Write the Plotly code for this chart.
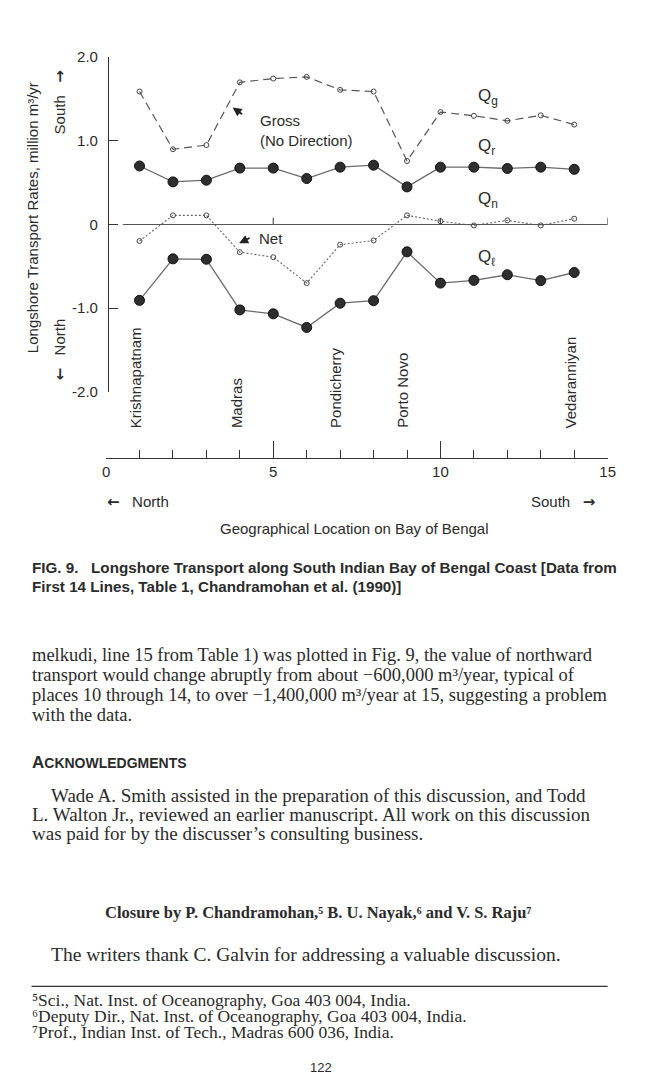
import plotly.graph_objects as go

W, H = 650, 1082


def px(x):
    return x / W


def py(y):
    return 1 - y / H


# ---------------- data ----------------
location = list(range(1, 15))
q_gross = [1.59, 0.90, 0.95, 1.70, 1.745, 1.765, 1.61, 1.59, 0.76, 1.345, 1.30, 1.24, 1.305, 1.195]
q_right = [0.70, 0.51, 0.53, 0.675, 0.675, 0.55, 0.686, 0.71, 0.45, 0.686, 0.686, 0.67, 0.686, 0.66]
q_net = [-0.196, 0.11, 0.11, -0.33, -0.39, -0.70, -0.24, -0.19, 0.11, 0.04, -0.01, 0.05, -0.01, 0.07]
q_left = [-0.906, -0.41, -0.415, -1.02, -1.067, -1.23, -0.94, -0.91, -0.326, -0.70, -0.667, -0.60, -0.67, -0.573]

place_names = ["Krishnapatnam", "Madras", "Pondicherry", "Porto Novo", "Vedaranniyan"]
place_index = [1, 4, 7, 9, 14]

y_ticks = [2, 1, 0, -1, -2]
y_tick_text = ["2.0", "1.0", "0", "-1.0", "-2.0"]
x_major = [0, 5, 10, 15]
x_major_text = ["0", "5", "10", "15"]
zero_ticks = [5, 10, 15]

SANS = "Liberation Sans, Arial, sans-serif"
SERIF = "Liberation Serif, Times New Roman, serif"
INK = "#2b2b2b"


def arrow(ch):
    return "<b><span style='font-family:DejaVu Sans'>" + ch + "</span></b>"


fig = go.Figure()

fig.add_trace(go.Scatter(
    x=location, y=q_gross, mode="lines+markers", name="Qg",
    line=dict(color="#555555", width=1.2, dash="8px,5px"),
    marker=dict(symbol="circle-open", size=5, color="#444444", line=dict(width=1)),
))
fig.add_trace(go.Scatter(
    x=location, y=q_right, mode="lines+markers", name="Qr",
    line=dict(color="#6a6a6a", width=1.3),
    marker=dict(symbol="circle", size=10, color="#2e2e2e", line=dict(color="#111111", width=1)),
))
fig.add_trace(go.Scatter(
    x=location, y=q_net, mode="lines+markers", name="Qn",
    line=dict(color="#666666", width=1.1, dash="2px,2px"),
    marker=dict(symbol="circle-open", size=5, color="#444444", line=dict(width=1)),
))
fig.add_trace(go.Scatter(
    x=location, y=q_left, mode="lines+markers", name="Ql",
    line=dict(color="#6a6a6a", width=1.3),
    marker=dict(symbol="circle", size=10, color="#2e2e2e", line=dict(color="#111111", width=1)),
))

shapes = [
    dict(type="line", xref="x", yref="y", x0=0.5, x1=15, y0=0, y1=0,
         line=dict(color="#555555", width=1.1)),
    dict(type="line", xref="paper", yref="paper", x0=px(28), x1=px(615), y0=py(993), y1=py(993),
         line=dict(color="#333333", width=1.2)),
]
for t in zero_ticks:
    shapes.append(dict(type="line", xref="x", yref="y", x0=t, x1=t, y0=0, y1=0.08,
                       line=dict(color="#444444", width=1.1)))

ann = []


def text(x, y, s, size=15, family=SANS, xanchor="left", angle=0, color=INK, yanchor="middle", **kw):
    d = dict(x=x, y=y, xref=kw.pop("xref", "paper"), yref=kw.pop("yref", "paper"), text=s,
             showarrow=False, xanchor=xanchor, yanchor=yanchor, textangle=angle,
             font=dict(size=size, family=family, color=color), align="left", borderpad=0)
    d.update(kw)
    ann.append(d)


# chart annotations
text(px(260), py(123), "Gross<br>(No Direction)", size=15)
ann.append(dict(x=3.785, y=1.40, xref="x", yref="y", ax=11, ay=8, text="", showarrow=True,
                arrowhead=2, arrowsize=1, arrowwidth=1.8, arrowcolor="#222222"))
text(px(259), py(233), "Net", size=15)
ann.append(dict(x=3.98, y=-0.224, xref="x", yref="y", ax=12, ay=-6, text="", showarrow=True,
                arrowhead=2, arrowsize=1, arrowwidth=1.8, arrowcolor="#222222"))
text(px(482), py(89), "Q<sub>g</sub>", size=17)
text(px(482), py(140), "Q<sub>r</sub>", size=17)
text(px(482), py(194), "Q<sub>n</sub>", size=17)
text(px(482), py(253), "Q<sub>ℓ</sub>", size=17)

text(px(29), py(212), "Longshore Transport Rates, million m³/yr", size=15, xanchor="center", angle=-90)
text(px(57), py(95), "South   " + arrow("→"), size=15, xanchor="center", angle=-90)
text(px(57), py(346), arrow("←") + "   North", size=15, xanchor="center", angle=-90)

for name, idx in zip(place_names, place_index):
    text(idx, py(427), name, size=15, xref="x", xanchor="center", yanchor="bottom", angle=-90, xshift=-4)

text(px(104), py(501), arrow("←") + "   North", size=15)
text(px(603), py(501), "South   " + arrow("→"), size=15, xanchor="right")
text(px(357), py(528), "Geographical Location on Bay of Bengal", size=15, xanchor="center")

# caption
text(px(27), py(567), "<b>FIG. 9.   Longshore Transport along South Indian Bay of Bengal Coast [Data from</b>", size=15.2)
text(px(27), py(587), "<b>First 14 Lines, Table 1, Chandramohan et al. (1990)]</b>", size=15.2)

# body text
body1 = [
    "melkudi, line 15 from Table 1) was plotted in Fig. 9, the value of northward",
    "transport would change abruptly from about \u2212600,000 m\u00b3/year, typical of",
    "places 10 through 14, to over \u22121,400,000 m\u00b3/year at 15, suggesting a problem",
    "with the data.",
]
for i, s in enumerate(body1):
    text(px(27), py(657 + 20 * i), s, size=18.5, family=SERIF)

text(px(27), py(766), "<b>A<span style='font-size:14px'>CKNOWLEDGMENTS</span></b>", size=17)

body2 = [
    "Wade A. Smith assisted in the preparation of this discussion, and Todd",
    "L. Walton Jr., reviewed an earlier manuscript. All work on this discussion",
    "was paid for by the discusser\u2019s consulting business.",
]
for i, s in enumerate(body2):
    x0 = 47 if i == 0 else 27
    text(px(x0), py(799 + 19.5 * i), s, size=19, family=SERIF)

text(px(320), py(918), "<b>Closure by P. Chandramohan,\u2075 B. U. Nayak,\u2076 and V. S. Raju\u2077</b>",
     size=16.5, family=SERIF, xanchor="center")
text(px(47), py(961), "The writers thank C. Galvin for addressing a valuable discussion.", size=19.5, family=SERIF)

foot = [
    "\u2075Sci., Nat. Inst. of Oceanography, Goa 403 004, India.",
    "\u2076Deputy Dir., Nat. Inst. of Oceanography, Goa 403 004, India.",
    "\u2077Prof., Indian Inst. of Tech., Madras 600 036, India.",
]
for i, s in enumerate(foot):
    text(px(27), py(1007 + 16.3 * i), s, size=17.5, family=SERIF)

text(px(323), py(1075), "122", size=13, xanchor="center")

fig.update_layout(
    width=W, height=H,
    margin=dict(l=0, r=0, t=0, b=0),
    paper_bgcolor="white", plot_bgcolor="white",
    showlegend=False,
    xaxis=dict(
        domain=[px(104), px(615)], range=[0, 15], anchor="free", position=py(456),
        showline=True, linecolor="#333333", linewidth=1.2,
        ticks="inside", ticklen=17, tickwidth=1.2, tickcolor="#333333",
        tickvals=x_major, ticktext=x_major_text,
        tickfont=dict(size=15, family=SANS, color=INK),
        minor=dict(dtick=1, tick0=0, ticks="inside", ticklen=8, tickwidth=1.1, tickcolor="#333333"),
        showgrid=False, zeroline=False,
    ),
    yaxis=dict(
        domain=[py(389), py(49)], range=[-2, 2], anchor="free", position=px(106),
        showline=True, linecolor="#333333", linewidth=1.2,
        ticks="inside", ticklen=9, tickwidth=1.2, tickcolor="#333333",
        tickvals=y_ticks, ticktext=y_tick_text, ticklabelstandoff=7,
        tickfont=dict(size=15, family=SANS, color=INK),
        showgrid=False, zeroline=False,
    ),
    shapes=shapes,
    annotations=ann,
)

fig.write_html("out.html")
